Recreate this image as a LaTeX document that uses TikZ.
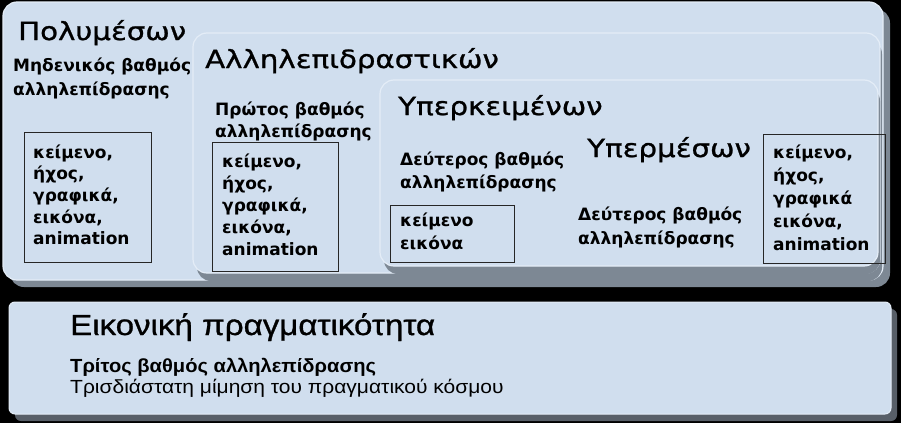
\documentclass[tikz,border=0pt]{standalone}
\usepackage{fontspec}
\setmainfont{DejaVu Sans}
\newfontfamily\headf[FakeStretch=1.17,FakeBold=1]{DejaVu Sans}
\newfontfamily\vrheadf[FakeStretch=1.14,FakeBold=1]{Liberation Sans}
\newfontfamily\vrsubf[FakeStretch=1.06]{Liberation Sans}
\newfontfamily\vrtextf[FakeStretch=1.105]{Liberation Sans}
\definecolor{panel}{HTML}{D0DEEE}
\definecolor{shade}{HTML}{7D8894}
\definecolor{edge}{HTML}{E4EDF7}
\begin{document}
\begin{tikzpicture}[x=1pt,y=-1pt,
  panelbox/.style={fill=panel, draw=edge, line width=1.2pt, rounded corners=14pt},
  shadowbox/.style={fill=shade, rounded corners=14pt},
  flatbox/.style={fill=panel, draw=edge, line width=1pt, rounded corners=6pt},
  flatshadow/.style={fill=shade!70!black, rounded corners=6pt},
  heading/.style={anchor=base west, inner sep=0pt, font=\headf\fontsize{25}{28}\selectfont},
  sublabel/.style={anchor=base west, inner sep=0pt, font=\bfseries\fontsize{17}{20}\selectfont},
  itemtext/.style={anchor=base west, inner sep=0pt, font=\bfseries\fontsize{17}{20}\selectfont},
  listbox/.style={draw=black!85, line width=0.8pt, inner sep=0pt, anchor=north west},
  vrhead/.style={anchor=base west, inner sep=0pt, font=\vrheadf\fontsize{29}{32}\selectfont},
  vrsub/.style={anchor=base west, inner sep=0pt, font=\vrsubf\bfseries\fontsize{19}{22}\selectfont},
  vrtext/.style={anchor=base west, inner sep=0pt, font=\vrtextf\fontsize{19}{22}\selectfont},
]
\fill[black] (0,0) rectangle (901,423);
\useasboundingbox (0,0) rectangle (901,423);

% panel 1: multimedia
\fill[shadowbox] (10,9) rectangle (890,287);
\draw[panelbox] (3,2) rectangle (883,280);
% panel 2: interactive
\fill[shadowbox] (197,40) rectangle (882,281);
\draw[panelbox] (193,33) rectangle (880,273);
% panel 3: hypertext
\fill[shadowbox] (384,87) rectangle (880,274);
\draw[panelbox] (380,80) rectangle (878,266);
% bottom panel: virtual reality
\fill[flatshadow] (15,309) rectangle (897,421);
\draw[flatbox] (9,302) rectangle (891,414);

% panel 1 texts
\node[heading] (h1) at (18,40) {Πολυμέσων};
\node[sublabel] (s1a) at (13,71.5) {Μηδενικός βαθμός};
\node[sublabel] (s1b) at (13,95) {αλληλεπίδρασης};
\node[listbox, minimum width=127pt, minimum height=130pt] (b1) at (24,132) {};
\foreach \t [count=\i from 0] in {{κείμενο,},{ήχος,},{γραφικά,},{εικόνα,},{animation}}
  \node[itemtext] (b1l\i) at (33,158+21.7*\i) {\t};

% panel 2 texts
\node[heading] (h2) at (205,68) {Αλληλεπιδραστικών};
\node[sublabel] (s2a) at (215,115) {Πρώτος βαθμός};
\node[sublabel] (s2b) at (215,137) {αλληλεπίδρασης};
\node[listbox, minimum width=126pt, minimum height=129pt] (b2) at (212,142) {};
\foreach \t [count=\i from 0] in {{κείμενο,},{ήχος,},{γραφικά,},{εικόνα,},{animation}}
  \node[itemtext] (b2l\i) at (222,167+22*\i) {\t};

% panel 3 texts
\node[heading] (h3) at (398,115) {Υπερκειμένων};
\node[sublabel] (s3a) at (400,165) {Δεύτερος βαθμός};
\node[sublabel] (s3b) at (400,188) {αλληλεπίδρασης};
\node[listbox, minimum width=124pt, minimum height=57pt] (b3) at (390,205) {};
\node[itemtext] (b3l0) at (400,226) {κείμενο};
\node[itemtext] (b3l1) at (400,249) {εικόνα};

% hypermedia texts
\node[heading] (h4) at (587,157) {Υπερμέσων};
\node[sublabel] (s4a) at (578,220) {Δεύτερος βαθμός};
\node[sublabel] (s4b) at (578,244) {αλληλεπίδρασης};
\node[listbox, minimum width=122pt, minimum height=129pt] (b4) at (763,134) {};
\foreach \t [count=\i from 0] in {{κείμενο,},{ήχος,},{γραφικά},{εικόνα,},{animation}}
  \node[itemtext] (b4l\i) at (773,158+23*\i) {\t};

% virtual reality texts
\node[vrhead] (h5) at (70,335) {Εικονική πραγματικότητα};
\node[vrsub] (s5) at (70,372) {Τρίτος βαθμός αλληλεπίδρασης};
\node[vrtext] (t5) at (70,393) {Τρισδιάστατη μίμηση του πραγματικού κόσμου};
\end{tikzpicture}
\end{document}
